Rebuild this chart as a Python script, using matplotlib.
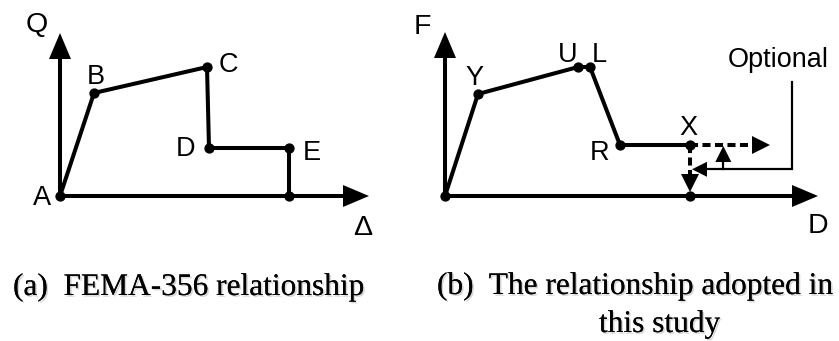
import matplotlib
matplotlib.use("Agg")
import matplotlib.pyplot as plt
from matplotlib.patches import FancyArrow
import matplotlib.patheffects as pe

# ---- (a) FEMA-356 backbone: A-B-C-D-E and drop to zero ----
fema_names = ["A", "B", "C", "D", "E"]
fema_x = [0, 34, 147, 149, 229, 229]
fema_y = [0, 103, 129, 48, 48, 0]
fema_axis_len = [309, 163]          # horizontal / vertical axis extents
fema_label_pos = {                  # label anchor (center x, baseline y)
    "A": (-17.5, -9), "B": (36, 112.5), "C": (168.5, 124.5),
    "D": (125, 40), "E": (252, 36),
}
fema_axis_labels = {"Q": (-23, 164), "\u0394": (303, -39)}

# ---- (b) adopted backbone: O-Y-U-L-R-X ----
adopt_names = ["", "Y", "U", "L", "R", "X"]
adopt_x = [0, 33, 133, 145, 175, 245, 245]
adopt_y = [0, 102, 129, 129, 51, 51, 0]
adopt_axis_len = [373, 164]
adopt_label_pos = {
    "Y": (29, 111), "U": (122.5, 133.7), "L": (154, 133.7),
    "R": (154.5, 36), "X": (243, 61),
}
adopt_axis_labels = {"F": (-22.5, 161.7), "D": (372.5, -37)}

# optional branches leaving point X
opt_right_tip = 325       # dashed continuation to the right
opt_down_tip = 4          # dashed drop toward the displacement axis
opt_leader_x = 346.7      # leader line from the "Optional" note
opt_leader_top = 114.3
opt_leader_y = 26.7
opt_up_x = 278.3
opt_text_pos = (283, 129)

captions_a = ["(a)  FEMA-356 relationship"]
captions_b = ["(b)  The relationship adopted in", "this study"]

W, H = 839, 341
fig = plt.figure(figsize=(W / 100, H / 100), dpi=100)
fig.patch.set_facecolor("white")

# one full-figure axes per panel, 1 data unit == 1 pixel, origin at the panel corner
ax_a = fig.add_axes([0, 0, 1, 1])
ax_a.set_xlim(-60, W - 60)
ax_a.set_ylim(196 - H, 196)
ax_b = fig.add_axes([0, 0, 1, 1])
ax_b.set_xlim(-445, W - 445)
ax_b.set_ylim(196 - H, 196)
ax_b.patch.set_alpha(0)
for ax in (ax_a, ax_b):
    ax.set_axis_off()

LW = 2.9
MS = 6.4
sans = "Liberation Sans"
serif = "Liberation Serif"
PT_SIZE = 19.5
AX_SIZE = 20.5
CAP_SIZE = 22.6


def head(ax, x, y, dx, dy, length, width):
    """Solid triangular arrow head ending at (x, y), pointing along (dx, dy)."""
    n = (dx ** 2 + dy ** 2) ** 0.5
    ux, uy = dx / n, dy / n
    ax.add_patch(FancyArrow(x - ux * length, y - uy * length, ux * length, uy * length,
                            width=0, head_width=width, head_length=length,
                            length_includes_head=True, color="black", lw=0, zorder=5))


def draw_axes(ax, lengths):
    ax.plot([0, lengths[0] - 20], [0, 0], color="black", lw=LW, solid_capstyle="butt")
    ax.plot([0, 0], [0, lengths[1] - 20], color="black", lw=LW, solid_capstyle="butt")
    head(ax, lengths[0], 0, 1, 0, 26, 22)
    head(ax, 0, lengths[1], 0, 1, 26, 22)


# ---- panel (a) ----
draw_axes(ax_a, fema_axis_len)
ax_a.plot(fema_x, fema_y, color="black", lw=LW, solid_joinstyle="miter", zorder=3)
ax_a.plot(fema_x, fema_y, "o", color="black", ms=MS, zorder=4)
for name in fema_names:
    px, py = fema_label_pos[name]
    ax_a.text(px, py, name, family=sans, fontsize=PT_SIZE, ha="center", va="baseline")
for name, (px, py) in fema_axis_labels.items():
    ax_a.text(px, py, name, family=sans, fontsize=AX_SIZE, ha="center", va="baseline")

# ---- panel (b) ----
draw_axes(ax_b, adopt_axis_len)
ax_b.plot(adopt_x[:6], adopt_y[:6], color="black", lw=LW, solid_joinstyle="miter", zorder=3)
ax_b.plot(adopt_x, adopt_y, "o", color="black", ms=MS, zorder=4)
for name in adopt_names[1:]:
    px, py = adopt_label_pos[name]
    ax_b.text(px, py, name, family=sans, fontsize=PT_SIZE, ha="center", va="baseline")
for name, (px, py) in adopt_axis_labels.items():
    ax_b.text(px, py, name, family=sans, fontsize=AX_SIZE, ha="center", va="baseline")

xX, yX = adopt_x[5], adopt_y[5]
dash = (0, (2.0, 1.1))
ax_b.plot([xX, opt_right_tip - 17], [yX, yX], color="black", lw=LW, ls=dash, zorder=3)
head(ax_b, opt_right_tip, yX, 1, 0, 18, 18)
ax_b.plot([xX, xX], [yX, opt_down_tip + 17], color="black", lw=LW, ls=dash, zorder=3)
head(ax_b, xX, opt_down_tip, 0, -1, 18, 18)

# leader from the note to the branches
ax_b.plot([opt_leader_x, opt_leader_x, xX + 14], [opt_leader_top, opt_leader_y, opt_leader_y],
          color="black", lw=1.6, solid_joinstyle="miter", zorder=3)
head(ax_b, xX + 2, opt_leader_y, -1, 0, 15, 15)
ax_b.plot([opt_up_x, opt_up_x], [opt_leader_y, yX - 14], color="black", lw=1.6, zorder=3)
head(ax_b, opt_up_x, yX - 1, 0, 1, 16, 16)
ax_b.text(opt_text_pos[0], opt_text_pos[1], "Optional", family=sans, fontsize=19.5,
          ha="left", va="baseline")

# ---- captions ----
shadow = [pe.withSimplePatchShadow(offset=(1.2, -1.2), shadow_rgbFace="0.55", alpha=0.35),
          pe.Normal()]
ax_a.text(-47, -99, captions_a[0], family=serif, fontsize=CAP_SIZE, ha="left", va="baseline",
          path_effects=shadow)
ax_b.text(-8, -98, captions_b[0], family=serif, fontsize=CAP_SIZE, ha="left", va="baseline",
          path_effects=shadow)
ax_b.text(154, -136, captions_b[1], family=serif, fontsize=CAP_SIZE, ha="left", va="baseline",
          path_effects=shadow)

fig.savefig("out.png", dpi=100, facecolor="white")
